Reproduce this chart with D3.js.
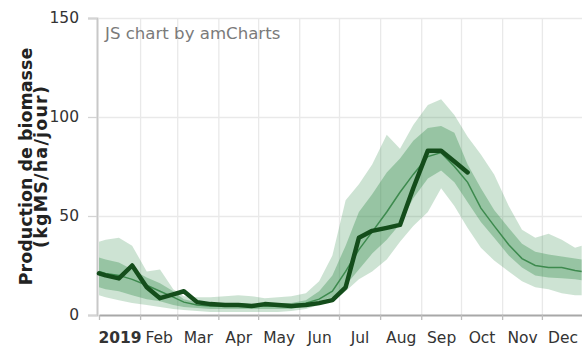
<!DOCTYPE html>
<html>
<head>
<meta charset="utf-8">
<script src="https://cdn.jsdelivr.net/npm/d3@7"></script>
<style>
  html, body { margin: 0; padding: 0; background: #fff; }
  svg { display: block; font-family: "DejaVu Sans", Verdana, sans-serif; }
</style>
</head>
<body>
<svg id="chart" width="582" height="347"></svg>
<script>
// ---- data -------------------------------------------------------------
const year = 2019;
const monthLabels = ["2019", "Feb", "Mar", "Apr", "May", "Jun", "Jul", "Aug", "Sep", "Oct", "Nov", "Dec"];
const yTicks = [0, 50, 100, 150];

// reference years: dates (month-day) and daily growth statistics
const bandDates = ["01-01", "01-06", "01-16", "01-26", "02-06", "02-16", "02-26", "03-06", "03-16", "03-26",
  "04-06", "04-16", "04-26", "05-06", "05-16", "05-26", "06-06", "06-16", "06-26", "07-06",
  "07-16", "07-26", "08-06", "08-16", "08-26", "09-06", "09-16", "09-26", "10-06", "10-16",
  "10-26", "11-06", "11-16", "11-26", "12-06", "12-16", "12-26", "12-31"];
const outerHigh = [37, 38, 39, 35, 22, 23, 13, 9.5, 9, 9, 9.5, 10, 9.5, 8.5, 9, 9.5, 11, 17, 30, 58,
  66, 76, 91, 84, 96, 106, 109, 101, 90, 81, 71, 55, 43, 39, 41, 38, 34, 35];
const innerHigh = [29, 28, 26.5, 23, 19, 16, 12, 8, 6.5, 6, 6, 6, 5.5, 5.5, 6, 6, 7.5, 12, 20, 35,
  52, 61, 72, 79, 88, 94.5, 95.5, 92, 76, 64, 53, 44, 36, 32, 30.5, 29.5, 28.5, 28];
const median = [22, 21, 20, 18, 15, 12, 9, 6.5, 5, 4.5, 4.5, 4.5, 4.5, 4.5, 4.5, 5, 6, 8, 12, 22,
  33, 42, 52, 62, 71, 80, 82, 75, 67, 54, 45, 35.5, 28.5, 25, 24, 24, 22.5, 22];
const innerLow = [14, 13, 12, 10, 8, 7, 5, 4, 3.5, 3, 3, 3, 3, 3, 3, 3, 4.5, 7, 9, 15,
  23, 31, 38, 46, 59, 69, 73, 67, 57, 47, 39, 30, 24, 20, 19, 18.5, 18, 17.5];
const outerLow = [10, 9, 7.5, 6, 5, 4, 3, 2.5, 2, 1.5, 1.5, 1.5, 1.5, 1.5, 1.5, 2, 3, 5, 7, 12,
  18, 22, 28, 37, 45, 52, 64, 55, 44, 34, 27.5, 22, 17, 14, 13, 11, 10, 10];

// current year
const obsDates = ["01-01", "01-06", "01-16", "01-26", "02-06", "02-16", "02-26", "03-06", "03-16", "03-26",
  "04-06", "04-16", "04-26", "05-06", "05-16", "05-26", "06-06", "06-16", "06-26", "07-06",
  "07-16", "07-26", "08-06", "08-16", "08-26", "09-06", "09-16", "09-26", "10-06"];
const obsValues = [21, 20, 18.5, 25, 14, 8.5, 10.4, 12, 6.5, 5.5, 5, 5, 4.5, 5.5, 5, 4.5, 5, 6, 7.5, 14,
  39, 42.5, 44, 45.5, 64, 83, 83, 77.5, 72];

// ---- layout -----------------------------------------------------------
const parse = d3.utcParse("%Y-%m-%d");
const toDate = md => parse(`${year}-${md}`);

const svg = d3.select("#chart");
const plot = { left: 99, right: 583, top: 18, bottom: 315 };

const x = d3.scaleUtc()
  .domain([new Date(Date.UTC(year, 0, 1)), new Date(Date.UTC(year + 1, 0, 1))])
  .range([plot.left, plot.right]);
const y = d3.scaleLinear().domain([0, 150]).range([plot.bottom, plot.top]);

const monthStarts = d3.utcMonths(new Date(Date.UTC(year, 0, 1)), new Date(Date.UTC(year, 11, 2)));
const monthMids = monthStarts.map(d => new Date((+d + +d3.utcMonth.offset(d, 1)) / 2));
const yearEnd = new Date(Date.UTC(year + 1, 0, 1));

const bands = bandDates.map((md, i) => ({
  date: toDate(md),
  oh: outerHigh[i], ih: innerHigh[i], med: median[i], il: innerLow[i], ol: outerLow[i]
}));
const obs = obsDates.map((md, i) => ({ date: toDate(md), v: obsValues[i] }));

// ---- grid -------------------------------------------------------------
svg.append("g")
  .attr("transform", `translate(${plot.left},0)`)
  .call(d3.axisLeft(y).tickValues(yTicks.slice(1)).tickSize(-(plot.right - plot.left)).tickFormat(""))
  .call(g => g.select(".domain").remove())
  .call(g => g.selectAll(".tick line").attr("stroke", "#e9e9e9").attr("stroke-width", 1.3));

svg.append("g")
  .attr("transform", `translate(0,${plot.top})`)
  .call(d3.axisBottom(x).tickValues(monthStarts.slice(1).concat([yearEnd]))
    .tickSize(plot.bottom - plot.top).tickFormat(""))
  .call(g => g.select(".domain").remove())
  .call(g => g.selectAll(".tick line").attr("stroke", "#e9e9e9").attr("stroke-width", 1.3));

// ---- bands ------------------------------------------------------------
const green = "#2e8b45";
svg.append("path")
  .datum(bands)
  .attr("fill", green).attr("fill-opacity", 0.24)
  .attr("d", d3.area().x(d => x(d.date)).y0(d => y(d.ol)).y1(d => y(d.oh)));

svg.append("path")
  .datum(bands)
  .attr("fill", green).attr("fill-opacity", 0.34)
  .attr("d", d3.area().x(d => x(d.date)).y0(d => y(d.il)).y1(d => y(d.ih)));

svg.append("path")
  .datum(bands)
  .attr("fill", "none").attr("stroke", "#3d8a4e").attr("stroke-width", 1.5)
  .attr("d", d3.line().x(d => x(d.date)).y(d => y(d.med)));

// ---- axes -------------------------------------------------------------
// y axis with short ticks and labels
svg.append("g")
  .attr("transform", `translate(${plot.left - 2},0)`)
  .call(d3.axisLeft(y).tickValues(yTicks).tickSize(9).tickPadding(9))
  .call(g => g.select(".domain").attr("stroke", "#c8c8c8").attr("stroke-width", 2))
  .call(g => g.selectAll(".tick line").attr("stroke", "#d4d4d4").attr("stroke-width", 1.3))
  .call(g => g.selectAll(".tick text")
    .attr("font-size", 15.5).attr("fill", "#333").attr("font-family", "DejaVu Sans, Verdana, sans-serif"));

// x axis: tick marks at month starts
svg.append("g")
  .attr("transform", `translate(0,${plot.bottom})`)
  .call(d3.axisBottom(x).tickValues(monthStarts.concat([yearEnd]))
    .tickSize(5).tickSizeOuter(0).tickFormat(""))
  .call(g => g.select(".domain").attr("stroke", "#a8a8a8").attr("stroke-width", 2))
  .call(g => g.selectAll(".tick line").attr("stroke", "#bdbdbd").attr("stroke-width", 1.3));

// x axis: month labels centred in each month
svg.append("g")
  .attr("transform", `translate(0,${plot.bottom})`)
  .call(d3.axisBottom(x).tickValues(monthMids).tickSize(0).tickPadding(17)
    .tickFormat((d, i) => monthLabels[i]))
  .call(g => g.select(".domain").remove())
  .call(g => g.selectAll(".tick text")
    .attr("font-size", 15.5).attr("fill", "#333").attr("font-family", "DejaVu Sans, Verdana, sans-serif")
    .attr("font-weight", (d, i) => i === 0 ? "bold" : "normal"));

// ---- current year line -----------------------------------------------
svg.append("path")
  .datum(obs)
  .attr("fill", "none").attr("stroke", "#144d1b").attr("stroke-width", 4.5)
  .attr("stroke-linejoin", "round").attr("stroke-linecap", "round")
  .attr("d", d3.line().x(d => x(d.date)).y(d => y(d.v)));

// ---- axis title -------------------------------------------------------
const title = svg.append("text")
  .attr("transform", `translate(0,${(plot.top + plot.bottom) / 2}) rotate(-90)`)
  .attr("text-anchor", "middle")
  .attr("font-weight", "bold").attr("font-size", 17.5).attr("fill", "#222");
title.append("tspan").attr("x", 0).attr("y", 32).text("Production de biomasse");
title.append("tspan").attr("x", 0).attr("y", 47).attr("letter-spacing", 1.2).text("(kgMS/ha/jour)");

// ---- credit -----------------------------------------------------------
svg.append("text")
  .attr("x", 105).attr("y", 39)
  .attr("font-size", 16.6).attr("fill", "#7a7a7a")
  .text("JS chart by amCharts");
</script>
</body>
</html>
